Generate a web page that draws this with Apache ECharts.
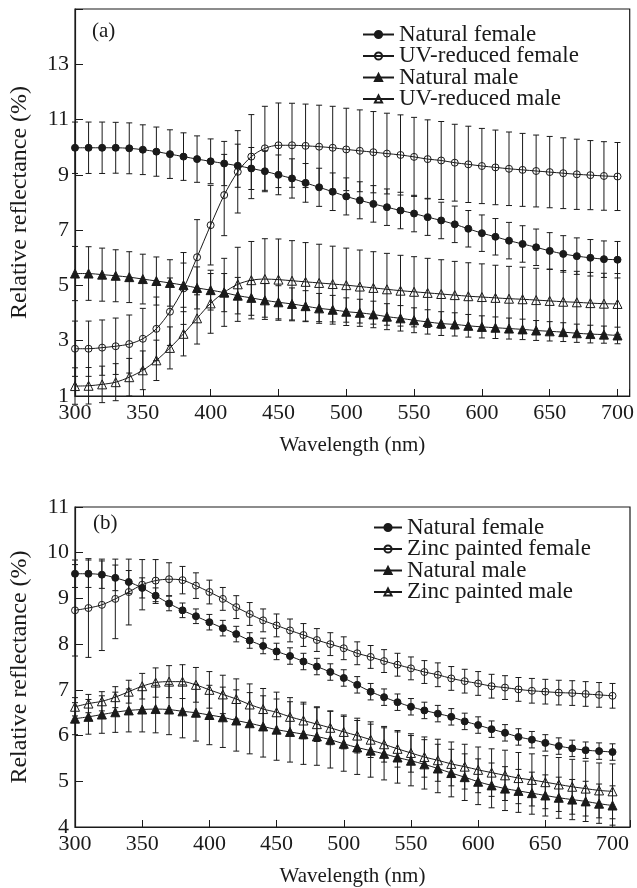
<!DOCTYPE html>
<html>
<head>
<meta charset="utf-8">
<script src="https://cdn.jsdelivr.net/npm/echarts@6/dist/echarts.min.js"></script>
<style>
  html, body { margin: 0; padding: 0; background: #fff; }
  #chart { width: 637px; height: 888px; }
</style>
</head>
<body>
<div id="chart"></div>
<script>
// wavelengths (nm), one point every 10 nm
const wavelengths = [300,310,320,330,340,350,360,370,380,390,400,410,420,430,440,450,460,470,480,490,500,
  510,520,530,540,550,560,570,580,590,600,610,620,630,640,650,660,670,680,690,700];

// panel (a): means
const natFemA = [9.98,9.98,9.98,9.98,9.96,9.91,9.84,9.75,9.66,9.57,9.49,9.41,9.33,9.23,9.13,9.00,8.87,8.71,8.55,8.39,8.22,
  8.08,7.95,7.83,7.71,7.60,7.47,7.35,7.21,7.05,6.89,6.76,6.62,6.50,6.38,6.25,6.14,6.06,6.00,5.95,5.93];
const uvFemA = [2.71,2.71,2.75,2.80,2.88,3.07,3.43,4.05,4.89,6.02,7.18,8.27,9.11,9.66,9.96,10.07,10.07,10.05,10.02,9.98,9.92,
  9.87,9.82,9.77,9.72,9.65,9.57,9.52,9.44,9.38,9.32,9.27,9.22,9.18,9.14,9.10,9.06,9.02,8.99,8.96,8.94];
const natMaleA = [5.43,5.43,5.39,5.35,5.30,5.23,5.16,5.09,5.01,4.91,4.83,4.74,4.63,4.55,4.46,4.39,4.33,4.25,4.17,4.12,4.05,
  4.01,3.95,3.87,3.81,3.74,3.68,3.62,3.59,3.54,3.50,3.47,3.44,3.41,3.37,3.34,3.31,3.27,3.24,3.22,3.19];
const uvMaleA = [1.36,1.37,1.42,1.50,1.68,1.93,2.29,2.74,3.25,3.81,4.35,4.75,5.04,5.19,5.23,5.21,5.17,5.13,5.09,5.05,5.01,
  4.96,4.91,4.86,4.81,4.77,4.73,4.69,4.65,4.61,4.58,4.55,4.52,4.50,4.47,4.44,4.41,4.39,4.36,4.34,4.33];

// panel (a): error bar half-lengths
const natFemAErr = [0.93,0.93,0.93,0.92,0.92,0.90,0.89,0.88,0.86,0.84,0.81,0.80,0.78,0.76,0.74,0.72,0.71,0.70,0.69,0.68,0.67,
  0.67,0.66,0.66,0.66,0.66,0.66,0.66,0.66,0.66,0.66,0.66,0.66,0.66,0.66,0.66,0.66,0.66,0.66,0.66,0.66];
const uvFemAErr = [1.00,1.00,1.00,1.02,1.05,1.10,1.15,1.22,1.30,1.36,1.44,1.47,1.49,1.52,1.52,1.53,1.52,1.51,1.50,1.50,1.49,
  1.48,1.47,1.46,1.45,1.43,1.42,1.41,1.39,1.38,1.36,1.35,1.33,1.32,1.30,1.29,1.28,1.27,1.25,1.24,1.23];
const natMaleAErr = [0.98,0.97,0.96,0.94,0.92,0.90,0.87,0.84,0.80,0.76,0.72,0.69,0.66,0.63,0.61,0.60,0.58,0.56,0.54,0.52,0.50,
  0.49,0.48,0.47,0.46,0.45,0.44,0.43,0.42,0.41,0.40,0.39,0.38,0.37,0.36,0.35,0.34,0.33,0.32,0.31,0.30];
const uvMaleAErr = [0.66,0.66,0.66,0.67,0.68,0.70,0.73,0.76,0.80,0.93,1.08,1.23,1.34,1.40,1.46,1.47,1.45,1.42,1.40,1.37,1.34,
  1.32,1.31,1.30,1.28,1.27,1.25,1.24,1.22,1.21,1.20,1.18,1.17,1.16,1.15,1.14,1.13,1.12,1.11,1.10,1.10];

// panel (b): means
const natFemB = [9.54,9.54,9.52,9.45,9.36,9.23,9.06,8.89,8.74,8.61,8.48,8.35,8.22,8.08,7.96,7.84,7.74,7.62,7.51,7.39,7.26,
  7.11,6.96,6.84,6.73,6.63,6.55,6.48,6.41,6.31,6.23,6.14,6.06,5.97,5.91,5.84,5.77,5.72,5.68,5.66,5.64];
const zincFemB = [8.74,8.79,8.86,8.99,9.14,9.30,9.39,9.42,9.40,9.28,9.14,8.99,8.81,8.66,8.52,8.41,8.30,8.20,8.09,8.00,7.91,
  7.80,7.72,7.63,7.55,7.47,7.39,7.33,7.25,7.19,7.14,7.08,7.05,7.01,6.98,6.96,6.94,6.93,6.91,6.89,6.87];
const natMaleB = [6.37,6.41,6.46,6.51,6.55,6.57,6.58,6.57,6.53,6.50,6.45,6.40,6.33,6.27,6.20,6.13,6.08,6.03,5.98,5.91,5.82,
  5.74,5.67,5.60,5.52,5.45,5.37,5.28,5.18,5.09,4.99,4.91,4.84,4.79,4.74,4.69,4.64,4.60,4.56,4.51,4.47];
const zincMaleB = [6.63,6.70,6.75,6.84,6.96,7.08,7.16,7.18,7.18,7.11,7.00,6.90,6.80,6.68,6.58,6.51,6.41,6.33,6.25,6.17,6.08,
  6.00,5.91,5.81,5.71,5.62,5.53,5.46,5.38,5.32,5.25,5.19,5.13,5.07,5.03,4.98,4.93,4.88,4.84,4.80,4.78];

// panel (b): error bar half-lengths
const natFemBErr = [0.30,0.30,0.30,0.28,0.25,0.22,0.17,0.16,0.16,0.16,0.17,0.17,0.17,0.17,0.17,0.18,0.18,0.18,0.18,0.18,0.18,
  0.18,0.18,0.18,0.18,0.18,0.18,0.18,0.18,0.18,0.18,0.18,0.18,0.18,0.18,0.18,0.18,0.18,0.18,0.18,0.18];
const zincFemBErr = [1.00,1.08,1.00,0.87,0.72,0.55,0.46,0.36,0.30,0.28,0.26,0.25,0.25,0.25,0.25,0.25,0.25,0.25,0.25,0.25,0.25,
  0.25,0.25,0.25,0.25,0.25,0.25,0.26,0.26,0.26,0.26,0.26,0.26,0.26,0.27,0.27,0.27,0.27,0.27,0.27,0.27];
const natMaleBErr = [0.35,0.38,0.41,0.44,0.47,0.49,0.52,0.55,0.58,0.62,0.65,0.66,0.67,0.67,0.67,0.67,0.66,0.66,0.63,0.62,0.60,
  0.59,0.58,0.57,0.56,0.55,0.54,0.53,0.52,0.51,0.50,0.49,0.48,0.47,0.46,0.45,0.45,0.44,0.44,0.43,0.43];
const zincMaleBErr = [0.20,0.20,0.21,0.23,0.25,0.28,0.32,0.35,0.37,0.38,0.40,0.42,0.44,0.45,0.45,0.44,0.42,0.40,0.38,0.37,0.37,
  0.38,0.39,0.39,0.40,0.42,0.44,0.46,0.48,0.49,0.50,0.52,0.55,0.56,0.57,0.58,0.59,0.60,0.60,0.60,0.60];

const legendA = ['Natural female', 'UV-reduced female', 'Natural male', 'UV-reduced male'];
const legendB = ['Natural female', 'Zinc painted female', 'Natural male', 'Zinc painted male'];

const FONT = 'Liberation Serif';
const INK = '#1a1a1a';

const chart = echarts.init(document.getElementById('chart'));

function pairs(ys) { return wavelengths.map((w, i) => [w, ys[i]]); }

function lineSeries(name, idx, ys, symbol, filled) {
  return {
    type: 'line', name, xAxisIndex: idx, yAxisIndex: idx,
    data: pairs(ys),
    symbol, symbolSize: symbol === 'triangle' ? 9 : 7,
    smooth: 0.3,
    lineStyle: { color: INK, width: 1 },
    itemStyle: { color: filled ? INK : 'rgba(255,255,255,0)', borderColor: INK, borderWidth: 1 },
    emphasis: { disabled: true },
    z: 3
  };
}

function errorBars(idx, ys, err) {
  return {
    type: 'custom', xAxisIndex: idx, yAxisIndex: idx, silent: true, z: 2,
    data: wavelengths.map((w, i) => [w, ys[i], err[i]]),
    renderItem(params, api) {
      const x = api.value(0), m = api.value(1), e = api.value(2);
      const hi = api.coord([x, m + e]);
      const lo = api.coord([x, m - e]);
      const st = { stroke: INK, lineWidth: 1 };
      return {
        type: 'group',
        children: [
          { type: 'line', shape: { x1: hi[0], y1: hi[1], x2: lo[0], y2: lo[1] }, style: st },
          { type: 'line', shape: { x1: hi[0] - 3, y1: hi[1], x2: hi[0] + 3, y2: hi[1] }, style: st },
          { type: 'line', shape: { x1: lo[0] - 3, y1: lo[1], x2: lo[0] + 3, y2: lo[1] }, style: st }
        ]
      };
    }
  };
}

function xAxisCfg(idx, max) {
  return {
    type: 'value', gridIndex: idx, min: 300, max, interval: 50,
    name: 'Wavelength (nm)', nameLocation: 'middle', nameGap: 39,
    nameTextStyle: { fontFamily: FONT, fontSize: 21, color: INK },
    axisLine: { lineStyle: { color: INK, width: 1.2 } },
    axisTick: { inside: true, length: 7, lineStyle: { color: INK } },
    axisLabel: { margin: 6, fontFamily: FONT, fontSize: 22, color: INK,
      formatter: v => (v % 50 === 0 ? String(v) : '') },
    splitLine: { show: false }
  };
}

function yAxisCfg(idx, min, max, interval, top) {
  return {
    type: 'value', gridIndex: idx, min, max, interval,
    name: 'Relative reflectance (%)', nameLocation: 'middle', nameGap: 43,
    nameTextStyle: { fontFamily: FONT, fontSize: 24, color: INK },
    axisLine: { show: true, lineStyle: { color: INK, width: 1.2 } },
    axisTick: { inside: true, length: 8, lineStyle: { color: INK } },
    axisLabel: { margin: 6, fontFamily: FONT, fontSize: 22, color: INK,
      formatter: v => (v > top ? '' : String(v)) },
    splitLine: { show: false }
  };
}

function legendCfg(data, left, top, itemWidth) {
  return {
    data, orient: 'vertical', left, top, padding: 0, itemGap: -1.5, itemWidth, itemHeight: 9,
    selectedMode: false,
    textStyle: { fontFamily: FONT, fontSize: 23, color: INK }
  };
}

chart.setOption({
  animation: false,
  backgroundColor: '#fff',
  title: [
    { text: '(a)', left: 87, top: 16, textStyle: { fontFamily: FONT, fontSize: 21, fontWeight: 'normal', color: INK } },
    { text: '(b)', left: 88, top: 508, textStyle: { fontFamily: FONT, fontSize: 21, fontWeight: 'normal', color: INK } }
  ],
  grid: [
    { left: 75, top: 9, width: 555, height: 387, show: true, borderColor: INK, borderWidth: 1.2 },
    { left: 74, top: 507, width: 556, height: 321, show: true, borderColor: INK, borderWidth: 1.2 }
  ],
  xAxis: [xAxisCfg(0, 709), xAxisCfg(1, 713)],
  yAxis: [yAxisCfg(0, 1, 15, 2, 13), yAxisCfg(1, 4, 11, 1, 11)],
  legend: [legendCfg(legendA, 362, 23, 31), legendCfg(legendB, 373, 516, 28)],
  series: [
    errorBars(0, natFemA, natFemAErr),
    errorBars(0, uvFemA, uvFemAErr),
    errorBars(0, natMaleA, natMaleAErr),
    errorBars(0, uvMaleA, uvMaleAErr),
    lineSeries(legendA[0], 0, natFemA, 'circle', true),
    lineSeries(legendA[1], 0, uvFemA, 'circle', false),
    lineSeries(legendA[2], 0, natMaleA, 'triangle', true),
    lineSeries(legendA[3], 0, uvMaleA, 'triangle', false),
    errorBars(1, natFemB, natFemBErr),
    errorBars(1, zincFemB, zincFemBErr),
    errorBars(1, natMaleB, natMaleBErr),
    errorBars(1, zincMaleB, zincMaleBErr),
    lineSeries(legendB[0], 1, natFemB, 'circle', true),
    lineSeries(legendB[1], 1, zincFemB, 'circle', false),
    lineSeries(legendB[2], 1, natMaleB, 'triangle', true),
    lineSeries(legendB[3], 1, zincMaleB, 'triangle', false)
  ]
});
</script>
</body>
</html>
